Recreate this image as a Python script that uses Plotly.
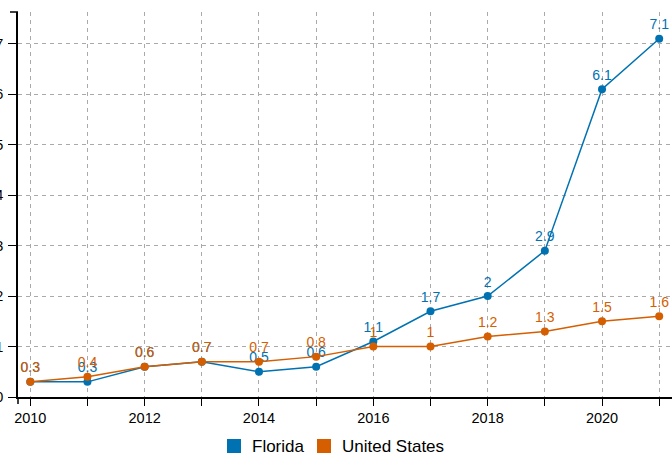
import plotly.graph_objects as go

years = list(range(2010, 2022))
florida = [0.3, 0.3, 0.6, 0.7, 0.5, 0.6, 1.1, 1.7, 2, 2.9, 6.1, 7.1]
united_states = [0.3, 0.4, 0.6, 0.7, 0.7, 0.8, 1, 1, 1.2, 1.3, 1.5, 1.6]
series_names = ["Florida", "United States"]
colors = ["#0072B2", "#D55E00"]

FONT = "Liberation Sans, Arial, sans-serif"

W, H = 672, 455
ML, MR, MT, MB = 18, 0, 12, 58
PW, PH = W - ML - MR, H - MT - MB


def px(sx):
    return (sx - ML) / PW


def py(sy):
    return (H - MB - sy) / PH


fig = go.Figure()
for name, vals, col in zip(series_names, [florida, united_states], colors):
    fig.add_trace(go.Scatter(
        x=years, y=vals, mode="lines+markers+text", name=name,
        text=[f"{v:g}" for v in vals], textposition="top center",
        textfont=dict(color=col, size=14, family=FONT),
        line=dict(color=col, width=1.5),
        marker=dict(color=col, size=8),
        showlegend=False, cliponaxis=False, hoverinfo="skip"))

grid = dict(showgrid=True, gridcolor="#aaaaaa", gridwidth=1, griddash="4px,4px")

# manual legend (squares + labels) below the plot
legend_x = [(227, 250), (317, 340)]
shapes = [
    dict(type="line", xref="paper", yref="paper", x0=0, x1=0,
         y0=0, y1=-7 / PH, line=dict(color="black", width=1.5)),
    dict(type="line", xref="paper", yref="paper", x0=0, x1=-8 / PW,
         y0=1, y1=1, line=dict(color="black", width=1.5)),
]
annotations = []
for (sq_x, tx_x), name, col in zip(legend_x, series_names, colors):
    shapes.append(dict(type="rect", xref="paper", yref="paper",
                       x0=px(sq_x), x1=px(sq_x + 14), y0=py(453), y1=py(439),
                       fillcolor=col, line=dict(width=0)))
    annotations.append(dict(text=name, xref="paper", yref="paper",
                            x=px(tx_x), y=py(446), xanchor="left",
                            yanchor="middle", showarrow=False,
                            font=dict(size=17, family=FONT, color="black")))

fig.update_layout(
    width=W, height=H,
    margin=dict(l=ML, r=MR, t=MT, b=MB),
    paper_bgcolor="white", plot_bgcolor="white",
    font=dict(family=FONT, size=14, color="black"),
    hovermode=False, showlegend=False,
    xaxis=dict(range=[2009.785, 2021.224], tick0=2010, dtick=2,
               ticks="outside", ticklen=7, tickcolor="black", tickwidth=1,
               showline=True, linecolor="black", linewidth=1.5,
               zeroline=False, automargin=False,
               tickfont=dict(size=14.5, family=FONT),
               minor=dict(dtick=1, tick0=2010, ticks="outside", ticklen=7,
                          tickcolor="black", showgrid=True,
                          gridcolor="#aaaaaa", griddash="4px,4px"),
               **grid),
    yaxis=dict(range=[0, 7.63], tick0=0, dtick=1,
               ticks="outside", ticklen=8, tickcolor="black", tickwidth=1,
               showline=True, linecolor="black", linewidth=1.5,
               zeroline=False, automargin=False, ticklabelstandoff=2,
               tickfont=dict(size=14.5, family=FONT),
               **grid),
    shapes=shapes,
    annotations=annotations,
)

fig.write_html("out.html", config={"displayModeBar": False},
               post_script="document.body.style.margin='0';")
